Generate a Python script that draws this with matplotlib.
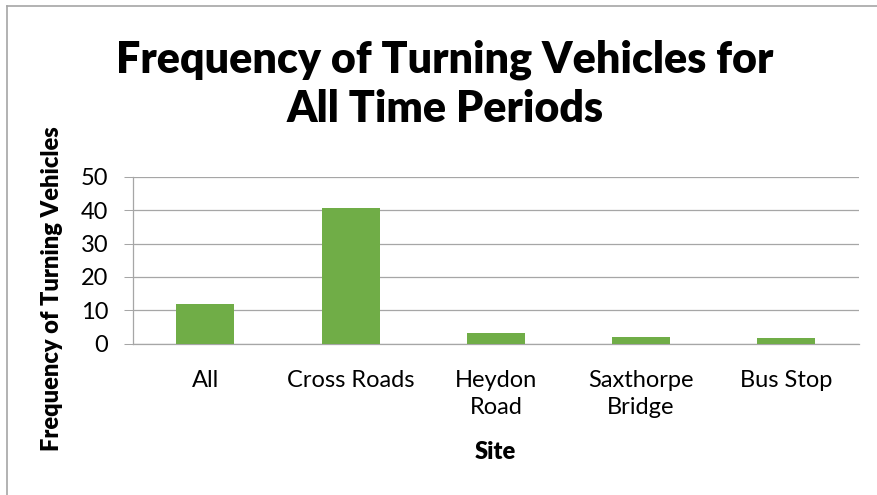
import matplotlib.pyplot as plt
from matplotlib.lines import Line2D

sites = ['All', 'Cross Roads', 'Heydon\nRoad', 'Saxthorpe\nBridge', 'Bus Stop']
freq = [12, 40.5, 3.1, 1.9, 1.8]
yticks = [0, 10, 20, 30, 40, 50]

W, H = 877, 495
plt.rcParams['font.family'] = ['Lato', 'DejaVu Sans']

fig = plt.figure(figsize=(W / 100, H / 100), dpi=100)
ax = fig.add_axes([132.7 / W, 1 - 343.7 / H, (859 - 132.7) / W, (343.7 - 176.7) / H])

grey = '#A6A6A6'
ax.bar(range(len(sites)), freq, width=0.4, color='#70AD47', zorder=3)
ax.set_xlim(-0.5, len(sites) - 0.5)
ax.set_ylim(0, 50)
ax.set_yticks(yticks)
ax.set_xticks(range(len(sites)))
ax.set_xticklabels(sites, fontsize=17, linespacing=1.35)
ax.tick_params(axis='x', length=0, pad=19)
ax.tick_params(axis='y', length=6.5, width=0.75, color=grey, pad=11, labelsize=17)
ax.grid(axis='y', color=grey, linewidth=0.9, zorder=0)
for s in ['top', 'right']:
    ax.spines[s].set_visible(False)
for s in ['left', 'bottom']:
    ax.spines[s].set_color(grey)
    ax.spines[s].set_linewidth(0.9)

# title, two lines placed like the Excel chart
fig.text(445 / W, 1 - 72.7 / H, 'Frequency of Turning Vehicles for',
         ha='center', va='baseline', fontsize=31, fontweight='heavy')
fig.text(445 / W, 1 - 121.7 / H, 'All Time Periods',
         ha='center', va='baseline', fontsize=31, fontweight='heavy')
fig.text(52 / W, 1 - 289 / H, 'Frequency of Turning Vehicles', rotation=90,
         ha='center', va='center', fontsize=17, fontweight='heavy')
fig.text(495 / W, 1 - 452 / H, 'Site', ha='center', va='center',
         fontsize=17, fontweight='heavy')

# chart frame (only left and top edges are visible)
fig.add_artist(Line2D([6.7 / W, 6.7 / W], [0, 1 - 5.7 / H], color=grey, lw=1.2))
fig.add_artist(Line2D([6.7 / W, 1], [1 - 5.7 / H, 1 - 5.7 / H], color=grey, lw=1.2))

fig.savefig('out.png', dpi=100)
